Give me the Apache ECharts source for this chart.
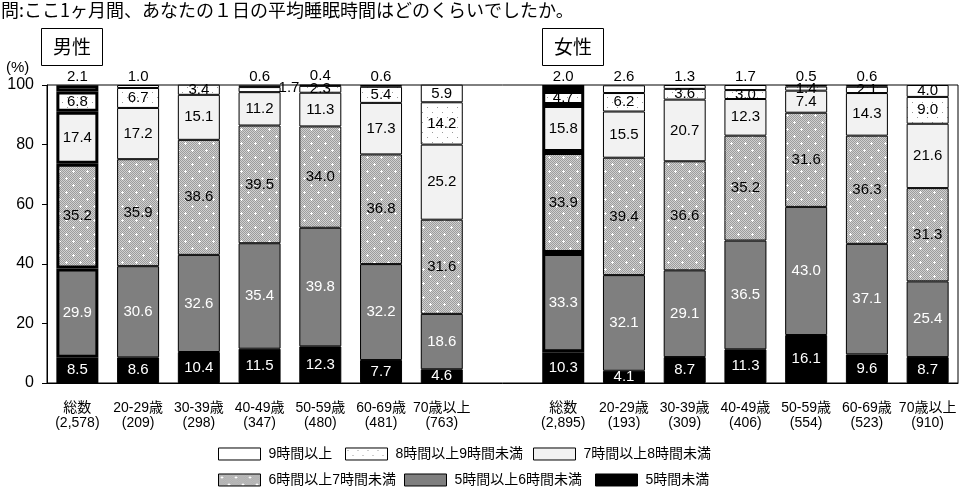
<!DOCTYPE html>
<html>
<head>
<meta charset="utf-8">
<script src="https://cdn.jsdelivr.net/npm/echarts@6/dist/echarts.min.js"></script>
<style>html,body{margin:0;padding:0;background:#fff}#c{width:960px;height:492px}</style>
</head>
<body>
<div id="c"></div>
<script>
const categories = ['総数\n(2,578)','20-29歳\n(209)','30-39歳\n(298)','40-49歳\n(347)','50-59歳\n(480)','60-69歳\n(481)','70歳以上\n(763)','',
  '総数\n(2,895)','20-29歳\n(193)','30-39歳\n(309)','40-49歳\n(406)','50-59歳\n(554)','60-69歳\n(523)','70歳以上\n(910)'];
const seriesNames = ['5時間未満','5時間以上6時間未満','6時間以上7時間未満','7時間以上8時間未満','8時間以上9時間未満','9時間以上'];
const under5 = [8.5,8.6,10.4,11.5,12.3,7.7,4.6,null,10.3,4.1,8.7,11.3,16.1,9.6,8.7];
const h5to6  = [29.9,30.6,32.6,35.4,39.8,32.2,18.6,null,33.3,32.1,29.1,36.5,43.0,37.1,25.4];
const h6to7  = [35.2,35.9,38.6,39.5,34.0,36.8,31.6,null,33.9,39.4,36.6,35.2,31.6,36.3,31.3];
const h7to8  = [17.4,17.2,15.1,11.2,11.3,17.3,25.2,null,15.8,15.5,20.7,12.3,7.4,14.3,21.6];
const h8to9  = [6.8,6.7,3.4,1.7,2.3,5.4,14.2,null,4.7,6.2,3.6,3.0,1.4,2.1,9.0];
const over9  = [2.1,1.0,0,0.6,0.4,0.6,5.9,null,2.0,2.6,1.3,1.7,0.5,0.6,4.0];
const yTickLabels = ['0','20','40','60','80','100'];
const groupTitles = ['男性','女性'];
const totalIdx = [0, 8];

// patterns
function dotPattern() {
  const c = document.createElement('canvas'); c.width = 10; c.height = 10;
  const g = c.getContext('2d');
  g.fillStyle = '#ffffff'; g.fillRect(0,0,10,10);
  g.fillStyle = '#9a9a9a';
  g.fillRect(2,2,1,1); g.fillRect(7,7,1,1);
  return c;
}
function checkPattern() {
  const n = 14;
  const c = document.createElement('canvas'); c.width = n; c.height = n;
  const g = c.getContext('2d');
  for (let y = 0; y < n; y++) for (let x = 0; x < n; x++) {
    g.fillStyle = ((x + y) % 2 === 0) ? '#9c9c9c' : '#d0d0d0';
    g.fillRect(x,y,1,1);
  }
  g.fillStyle = '#ffffff';
  [[3,3],[10,10]].forEach(([x,y]) => {
    g.fillRect(x-1,y,3,1); g.fillRect(x,y-1,1,3);
  });
  return c;
}
const fills = ['#000000','#7f7f7f',{image: checkPattern(), repeat: 'repeat'},'#f2f2f2',{image: dotPattern(), repeat: 'repeat'},'#ffffff'];
const labelColors = ['#ffffff','#ffffff','#000000','#000000','#000000','#000000'];
const raw = [under5, h5to6, h6to7, h7to8, h8to9, over9];

const FONT = 'Arial, "Liberation Sans", "Noto Sans CJK JP", sans-serif';
const JFONT = '"Noto Sans CJK JP", sans-serif';

const series = raw.map((arr, si) => ({
  name: seriesNames[si],
  type: 'bar',
  stack: 'total',
  barWidth: 42,
  itemStyle: { color: fills[si], borderColor: '#000', borderWidth: 1 },
  label: {
    show: true, position: 'inside', color: labelColors[si],
    fontSize: 15, fontFamily: FONT,
    formatter: p => p.value === 0 ? '0' : Number(p.value).toFixed(1)
  },
  emphasis: { disabled: true },
  data: arr.map((v, i) => {
    if (v === null) return '-';
    const d = { value: v };
    if (totalIdx.includes(i)) d.itemStyle = { borderWidth: 3 };
    if (si === 5 && i !== 6 && i !== 14) d.label = { position: 'top', distance: 1 };
    if (si === 4 && i === 3) d.label = { position: 'right', distance: 0, offset: [-2, -2] };
    return d;
  })
}));

const legendPos = [
  {left: 218, top: 447}, {left: 345, top: 447}, {left: 533, top: 447},
  {left: 218, top: 473}, {left: 404, top: 473}, {left: 595, top: 473}
];
const legendOrder = ['9時間以上','8時間以上9時間未満','7時間以上8時間未満','6時間以上7時間未満','5時間以上6時間未満','5時間未満'];
const legends = legendOrder.map((n, k) => ({
  data: [n], left: legendPos[k].left, top: legendPos[k].top, padding: 0,
  itemWidth: 42, itemHeight: 12, icon: 'rect', selectedMode: false,
  itemStyle: { borderColor: '#000', borderWidth: 1 },
  textStyle: { fontSize: 14, color: '#000', fontFamily: FONT, padding: [0,0,0,3] }
}));

const chart = echarts.init(document.getElementById('c'), null, {renderer: 'canvas'});
chart.setOption({
  animation: false,
  backgroundColor: '#fff',
  grid: { left: 47, right: 2, top: 85, bottom: 109, show: true, borderColor: '#000', borderWidth: 1, backgroundColor: 'transparent' },
  legend: legends,
  xAxis: {
    type: 'category', data: categories,
    axisLine: { lineStyle: { color: '#000' } },
    axisTick: { length: 4, lineStyle: { color: '#000' } },
    axisLabel: { color: '#000', fontSize: 14, lineHeight: 15, margin: 18, fontFamily: FONT, interval: 0 }
  },
  yAxis: {
    type: 'value', min: 0, max: 100, interval: 20,
    axisLine: { show: true, lineStyle: { color: '#000' } },
    axisTick: { show: true, length: 5, lineStyle: { color: '#000' } },
    splitLine: { show: false },
    axisLabel: { color: '#000', fontSize: 16, margin: 13, fontFamily: FONT,
      formatter: v => yTickLabels[yTickLabels.indexOf(String(v))] }
  },
  graphic: [
    { type: 'text', left: 1, top: 1, style: { text: '問:ここ1ヶ月間、あなたの１日の平均睡眠時間はどのくらいでしたか。', fontSize: 18, fill: '#000', fontFamily: JFONT } },
    { type: 'rect', shape: { x: 41.5, y: 28.5, width: 61, height: 37 }, style: { fill: '#fff', stroke: '#000', lineWidth: 1 } },
    { type: 'text', x: 72, y: 47, style: { text: groupTitles[0], fontSize: 19, fill: '#000', align: 'center', verticalAlign: 'middle', fontFamily: JFONT } },
    { type: 'rect', shape: { x: 542.5, y: 28.5, width: 61, height: 37 }, style: { fill: '#fff', stroke: '#000', lineWidth: 1 } },
    { type: 'text', x: 573, y: 47, style: { text: groupTitles[1], fontSize: 19, fill: '#000', align: 'center', verticalAlign: 'middle', fontFamily: JFONT } },
    { type: 'text', x: 6, y: 68, style: { text: '(%)', fontSize: 15, fill: '#000', verticalAlign: 'middle', fontFamily: FONT } }
  ],
  series: series
});
</script>
</body>
</html>
